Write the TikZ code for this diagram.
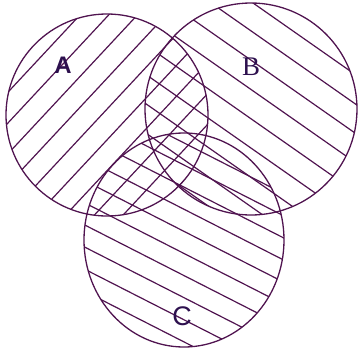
\documentclass[tikz,border=0pt]{standalone}
\usepackage{fontspec}
\setmainfont{Liberation Serif}
\newfontfamily\arialfont{Liberation Sans}
\definecolor{lila}{RGB}{80,20,80}
\definecolor{schrift}{RGB}{45,16,78}
\tikzset{
  kreis/.style={draw=lila, line width=1.3bp},
  schraffur/.style={lila, line width=1.2bp},
  buchstabe/.style={text=schrift, inner sep=0pt}
}
\begin{document}
\begin{tikzpicture}[x=1bp, y=-1bp]
	\useasboundingbox (0,0) rectangle (362,354);
	
	% Kreis A
	\begin{scope}
		\clip (107,115) circle (101);
		\begin{scope}[shift={(107,115)}, rotate=47]
			\foreach \k in {-5,...,5}
				\draw[schraffur] (-115,{-4+21*\k}) -- (115,{-4+21*\k});
		\end{scope}
	\end{scope}
	
	% Kreis B
	\begin{scope}
		\clip (251,109) circle (106);
		\begin{scope}[shift={(251,109)}, rotate=-35]
			\foreach \k in {-5,...,5}
				\draw[schraffur] (-120,{8+24*\k}) -- (120,{8+24*\k});
		\end{scope}
	\end{scope}
	
	% Kreis C
	\begin{scope}
		\clip (184,240) ellipse (100 and 107);
		\begin{scope}[shift={(184,240)}, rotate=-27]
			\foreach \k in {-6,...,6}
				\draw[schraffur] (-120,{12+19.7*\k}) -- (120,{12+19.7*\k});
		\end{scope}
	\end{scope}
	
	\draw[kreis] (107,115) circle (101);
	\draw[kreis] (251,109) circle (106);
	\draw[kreis] (184,240) ellipse (100 and 107);
	
	\node[buchstabe, font=\arialfont\bfseries\fontsize{24}{24}\selectfont] (labA) at (63,65) {A};
	\node[buchstabe, font=\fontsize{27}{27}\selectfont] (labB) at (251,67) {B};
	\node[buchstabe, font=\arialfont\fontsize{27}{27}\selectfont] (labC) at (182,316) {C};
\end{tikzpicture}
\end{document}
